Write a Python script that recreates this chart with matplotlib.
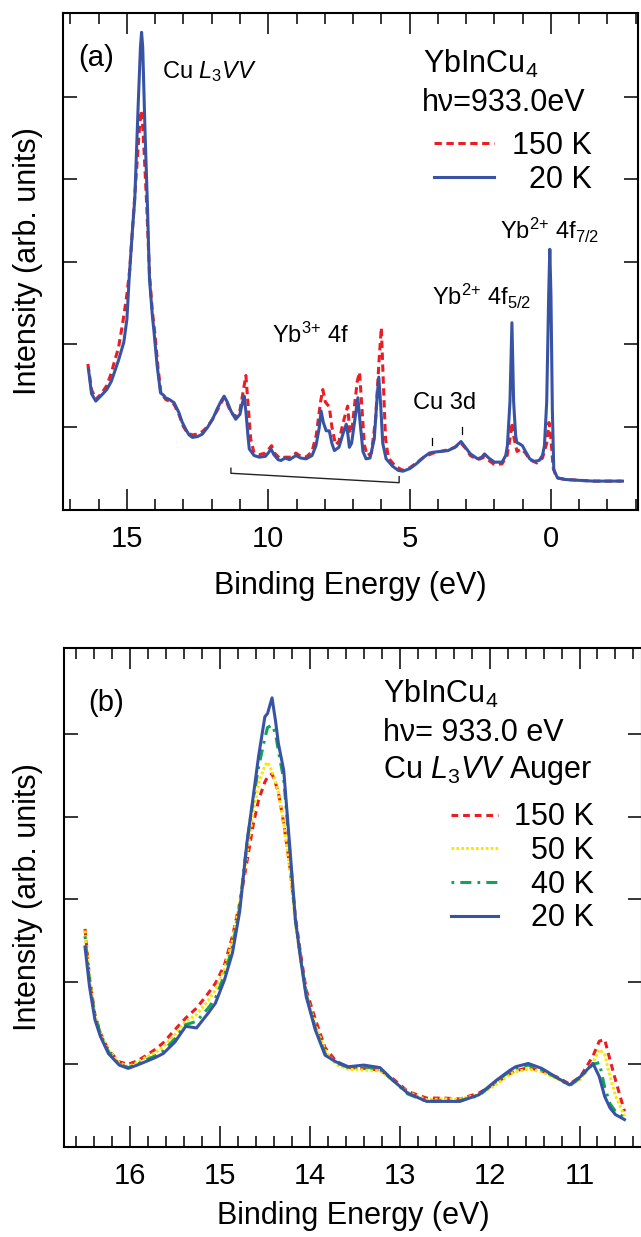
import matplotlib
matplotlib.use("Agg")
import matplotlib.pyplot as plt
import numpy as np

plt.rcParams['font.family'] = ['Liberation Sans', 'DejaVu Sans']
plt.rcParams['mathtext.fontset'] = 'custom'
plt.rcParams['mathtext.rm'] = 'Liberation Sans'
plt.rcParams['mathtext.it'] = 'Liberation Sans:italic'
plt.rcParams['mathtext.bf'] = 'Liberation Sans:bold'

# ---------------- Panel (a) data: valence band, 150 K and 20 K ----------------
a_e_20 = [16.36, 16.25, 16.10, 15.90, 15.71, 15.55, 15.44, 15.30, 15.11, 15.00, 14.92, 14.80,
          14.72, 14.60, 14.52, 14.48, 14.44, 14.36, 14.28, 14.20, 14.10, 14.04, 13.93, 13.81,
          13.70, 13.63, 13.50, 13.33, 13.16, 13.05, 12.92, 12.80, 12.68, 12.50, 12.33, 12.15,
          11.97, 11.80, 11.65, 11.56, 11.45, 11.32, 11.15, 11.00, 10.92, 10.85, 10.78, 10.72,
          10.67, 10.50, 10.32, 10.10, 9.98, 9.90, 9.80, 9.65, 9.55, 9.40, 9.25, 9.02, 8.85,
          8.66, 8.45, 8.31, 8.20, 8.13, 8.05, 7.95, 7.84, 7.75, 7.66, 7.50, 7.35, 7.24, 7.18,
          7.13, 7.05, 6.95, 6.83, 6.75, 6.65, 6.54, 6.40, 6.25, 6.15, 6.09, 6.02, 5.95, 5.83,
          5.60, 5.40, 5.24, 5.00, 4.76, 4.50, 4.30, 4.17, 3.90, 3.64, 3.40, 3.18, 3.05, 2.85,
          2.59, 2.45, 2.35, 2.20, 2.00, 1.73, 1.60, 1.54, 1.45, 1.38, 1.32, 1.25, 1.21, 1.10,
          1.01, 0.90, 0.75, 0.60, 0.42, 0.30, 0.23, 0.15, 0.08, 0.04, 0.00, -0.05, -0.10,
          -0.23, -0.50, -0.96, -1.50, -2.00, -2.53]
a_i_20 = [1.70, 1.40, 1.31, 1.38, 1.45, 1.55, 1.66, 1.80, 2.02, 2.30, 2.79, 3.40,
          3.76, 4.90, 5.60, 5.78, 5.60, 4.60, 3.76, 2.79, 2.35, 2.15, 1.74, 1.41,
          1.38, 1.35, 1.33, 1.29, 1.17, 1.06, 0.97, 0.90, 0.87, 0.88, 0.91, 0.99,
          1.09, 1.22, 1.32, 1.37, 1.30, 1.19, 1.09, 1.15, 1.28, 1.37, 1.15, 0.90,
          0.73, 0.65, 0.63, 0.64, 0.69, 0.73, 0.66, 0.60, 0.59, 0.62, 0.60, 0.65, 0.62,
          0.61, 0.65, 0.77, 0.98, 1.19, 1.05, 0.95, 0.95, 0.80, 0.71, 0.75, 0.92, 1.03, 0.90,
          0.75, 0.80, 1.05, 1.35, 1.05, 0.70, 0.61, 0.62, 0.85, 1.35, 1.60, 1.25, 0.80, 0.61,
          0.52, 0.47, 0.46, 0.49, 0.55, 0.63, 0.68, 0.69, 0.70, 0.71, 0.75, 0.82, 0.76, 0.67,
          0.61, 0.63, 0.67, 0.62, 0.57, 0.57, 0.65, 0.77, 1.30, 2.26, 1.30, 0.90, 0.81, 0.79,
          0.77, 0.70, 0.61, 0.58, 0.59, 0.65, 0.77, 1.30, 2.60, 3.15, 2.60, 1.20, 0.48,
          0.38, 0.36, 0.35, 0.34, 0.34, 0.34]

a_e_150 = [16.38, 16.25, 16.10, 15.90, 15.71, 15.55, 15.44, 15.30, 15.15, 15.00, 14.90, 14.80,
           14.70, 14.60, 14.52, 14.50, 14.46, 14.40, 14.30, 14.20, 14.10, 14.00, 13.90, 13.80,
           13.63, 13.50, 13.33, 13.16, 13.00, 12.85, 12.68, 12.50, 12.33, 12.15, 11.97, 11.80,
           11.65, 11.56, 11.45, 11.32, 11.15, 11.00, 10.90, 10.79, 10.72, 10.62, 10.50, 10.32,
           10.10, 9.98, 9.88, 9.78, 9.60, 9.40, 9.20, 9.02, 8.85, 8.66, 8.45, 8.30, 8.15, 8.07,
           7.98, 7.84, 7.75, 7.62, 7.50, 7.35, 7.19, 7.12, 7.05, 6.95, 6.85, 6.77, 6.70, 6.60,
           6.50, 6.35, 6.20, 6.08, 6.00, 5.93, 5.85, 5.75, 5.50, 5.24, 5.00, 4.76, 4.50, 4.17,
           3.90, 3.64, 3.40, 3.18, 3.00, 2.85, 2.59, 2.35, 2.00, 1.73, 1.55, 1.45, 1.38, 1.30,
           1.20, 1.05, 0.90, 0.75, 0.50, 0.30, 0.15, 0.07, 0.00, -0.08, -0.20, -0.50, -1.00,
           -1.50, -2.00, -2.50]
a_i_150 = [1.76, 1.45, 1.33, 1.40, 1.50, 1.65, 1.79, 1.95, 2.25, 2.60, 2.90, 3.40,
           3.90, 4.40, 4.78, 4.83, 4.75, 4.40, 3.70, 2.85, 2.40, 2.10, 1.72, 1.42,
           1.33, 1.31, 1.27, 1.15, 1.00, 0.92, 0.90, 0.91, 0.94, 1.00, 1.09, 1.20,
           1.30, 1.35, 1.28, 1.17, 1.12, 1.20, 1.40, 1.62, 1.30, 0.85, 0.68, 0.66,
           0.68, 0.73, 0.77, 0.68, 0.62, 0.63, 0.63, 0.68, 0.64, 0.63, 0.70, 0.90, 1.30, 1.45,
           1.30, 1.24, 1.00, 0.78, 0.82, 1.05, 1.25, 0.95, 0.92, 1.25, 1.55, 1.66, 1.30, 0.78,
           0.65, 0.68, 1.10, 1.80, 2.20, 1.55, 0.85, 0.62, 0.52, 0.47, 0.50, 0.56, 0.63, 0.68,
           0.70, 0.72, 0.75, 0.80, 0.73, 0.65, 0.60, 0.63, 0.54, 0.55, 0.65, 0.85, 1.05, 0.85,
           0.70, 0.73, 0.68, 0.60, 0.56, 0.62, 0.80, 1.05, 0.85, 0.50, 0.38, 0.36, 0.35,
           0.34, 0.34, 0.34]

# ---------------- Panel (b) data: Cu L3VV Auger, 4 temperatures ----------------
b_e = [16.50, 16.45, 16.39, 16.33, 16.24, 16.12, 16.02, 15.92, 15.83, 15.72, 15.63, 15.50,
       15.38, 15.26, 15.13, 15.05, 14.95, 14.86, 14.78, 14.70, 14.63, 14.57, 14.50, 14.47,
       14.42, 14.38, 14.35, 14.29, 14.22, 14.16, 14.10, 14.04, 13.94, 13.83, 13.71, 13.57,
       13.40, 13.22, 13.07, 12.91, 12.70, 12.50, 12.33, 12.12, 11.92, 11.77, 11.71, 11.57,
       11.42, 11.24, 11.11, 10.99, 10.85, 10.78, 10.72, 10.66, 10.60, 10.50]
b_i_20 = [2.42, 1.94, 1.54, 1.34, 1.13, 0.99, 0.95, 0.99, 1.03, 1.08, 1.13, 1.27,
          1.46, 1.44, 1.62, 1.74, 2.02, 2.35, 2.85, 3.68, 4.24, 4.73, 5.21, 5.25,
          5.44, 5.15, 4.89, 4.56, 3.60, 2.75, 2.26, 1.82, 1.42, 1.11, 1.03, 0.97,
          0.99, 0.96, 0.80, 0.65, 0.55, 0.55, 0.55, 0.63, 0.81, 0.93, 0.97, 1.01,
          0.95, 0.83, 0.75, 0.85, 1.01, 0.85, 0.61, 0.47, 0.39, 0.33]
b_i_40 = [2.55, 2.00, 1.58, 1.37, 1.15, 1.00, 0.96, 1.00, 1.05, 1.10, 1.16, 1.31,
          1.48, 1.52, 1.68, 1.80, 2.08, 2.42, 2.90, 3.68, 4.20, 4.60, 4.95, 5.08,
          5.11, 5.00, 4.80, 4.45, 3.55, 2.75, 2.28, 1.85, 1.44, 1.13, 1.02, 0.96,
          0.97, 0.94, 0.80, 0.64, 0.55, 0.56, 0.56, 0.62, 0.80, 0.92, 0.95, 0.99,
          0.93, 0.83, 0.74, 0.84, 1.00, 1.02, 0.72, 0.52, 0.43, 0.35]
b_i_50 = [2.62, 2.05, 1.60, 1.38, 1.17, 1.02, 0.97, 1.02, 1.08, 1.14, 1.21, 1.36,
          1.52, 1.60, 1.77, 1.90, 2.15, 2.50, 2.95, 3.55, 4.05, 4.40, 4.62, 4.66,
          4.55, 4.42, 4.30, 3.92, 3.35, 2.70, 2.25, 1.85, 1.48, 1.17, 1.00, 0.94,
          0.93, 0.92, 0.80, 0.66, 0.57, 0.58, 0.58, 0.63, 0.76, 0.88, 0.91, 0.94,
          0.91, 0.82, 0.74, 0.82, 1.02, 1.18, 1.12, 0.85, 0.62, 0.37]
b_i_150 = [2.64, 2.05, 1.60, 1.38, 1.17, 1.03, 1.00, 1.04, 1.10, 1.18, 1.26, 1.42,
           1.56, 1.68, 1.86, 1.98, 2.20, 2.55, 2.95, 3.45, 3.90, 4.20, 4.42, 4.48,
           4.52, 4.40, 4.30, 3.92, 3.38, 2.78, 2.32, 1.90, 1.55, 1.20, 1.04, 0.96,
           0.95, 0.93, 0.82, 0.67, 0.59, 0.59, 0.58, 0.65, 0.78, 0.89, 0.92, 0.96,
           0.92, 0.84, 0.76, 0.85, 1.10, 1.28, 1.30, 1.05, 0.81, 0.43]

RED = '#EC1C24'
BLUE = '#3953A4'
YELLOW = '#FFE600'
GREEN = '#10A455'

W, H = 641, 1237
fig = plt.figure(figsize=(W / 100, H / 100), dpi=100)

def px_axes(left, top, right, bottom):
    return [left / W, 1 - bottom / H, (right - left) / W, (bottom - top) / H]

ax1 = fig.add_axes(px_axes(62.7, 13.3, 638.3, 510))
ax2 = fig.add_axes(px_axes(64, 648.3, 642, 1146.8))

for ax in (ax1, ax2):
    for s in ax.spines.values():
        s.set_linewidth(1.5)
    ax.tick_params(axis='both', which='both', direction='in', top=True, right=True,
                   width=1.1, labelsize=21, pad=11)
    ax.tick_params(axis='x', which='major', length=15)
    ax.tick_params(axis='x', which='minor', length=8)
    ax.tick_params(axis='y', which='major', length=10, labelleft=False)
    ax.tick_params(axis='y', which='minor', left=False, right=False)

SUP2 = r'Yb$^{2{+}}$'
SUP3 = r'Yb$^{3{+}}$'

# ----- panel (a) -----
ax1.plot(a_e_150, a_i_150, color=RED, lw=2.2, dashes=(2.4, 1.5), label='150 K')
ax1.plot(a_e_20, a_i_20, color=BLUE, lw=2.2, label='  20 K')
ax1.set_xlim(17.27, -3.09)
ax1.set_ylim(-0.01, 6.01)
ax1.set_xticks([15, 10, 5, 0])
ax1.set_xticks(np.arange(17, -3.5, -1), minor=True)
ax1.set_yticks([1, 2, 3, 4, 5])
ax1.set_xlabel('Binding Energy (eV)', fontsize=22, labelpad=13)

ax1.text(16.73, 5.37, '(a)', fontsize=21)
ax1.text(13.76, 5.23, r'Cu $\mathit{L}_{\mathrm{3}}\mathit{VV}$', fontsize=17)
ax1.text(4.54, 5.29, r'YbInCu$_{\mathrm{4}}$', fontsize=22)
ax1.text(4.57, 4.83, 'h\u03bd=933.0eV', fontsize=22)
ax1.text(9.88, 2.02, SUP3 + ' 4f', fontsize=17)
ax1.text(4.87, 1.215, 'Cu 3d', fontsize=17)
ax1.text(4.22, 2.475, SUP2 + r' 4f$_{\mathrm{5/2}}$', fontsize=17)
ax1.text(1.80, 3.27, SUP2 + r' 4f$_{\mathrm{7/2}}$', fontsize=17)
# Cu 3d markers
ax1.plot([4.22, 4.22], [0.78, 0.865], color='black', lw=0.9)
ax1.plot([3.14, 3.14], [0.91, 1.00], color='black', lw=0.9)
# bracket under Yb3+ 4f multiplet
ax1.plot([11.32, 11.32, 5.37, 5.37], [0.496, 0.435, 0.321, 0.394], color='#222222', lw=1.0)

ax1.legend(loc='upper left', bbox_to_anchor=(0.645, 0.763), frameon=False,
           fontsize=22, handlelength=1.95, handletextpad=0.6, labelspacing=0.12,
           borderpad=0, borderaxespad=0)

# ----- panel (b) -----
ax2.plot(b_e, b_i_150, color=RED, lw=2.2, dashes=(2.2, 1.6), label='150 K')
ax2.plot(b_e, b_i_50, color=YELLOW, lw=2.2, dashes=(0.9, 0.7), label='  50 K')
ax2.plot(b_e, b_i_40, color=GREEN, lw=2.2, dashes=(0.9, 2.0, 3.6, 2.0), label='  40 K')
ax2.plot(b_e, b_i_20, color=BLUE, lw=2.2, label='  20 K')
ax2.set_xlim(16.734, 10.305)
ax2.set_ylim(0, 6.04)
ax2.set_xticks([16, 15, 14, 13, 12, 11])
ax2.set_xticks(np.arange(16.6, 10.3, -0.2), minor=True)
ax2.set_yticks([1, 2, 3, 4, 5])
ax2.set_xlabel('Binding Energy (eV)', fontsize=22, labelpad=8)

ax2.text(16.464, 5.28, '(b)', fontsize=21)
ax2.text(13.182, 5.38, r'YbInCu$_{\mathrm{4}}$', fontsize=22)
ax2.text(13.182, 4.92, 'h\u03bd= 933.0 eV', fontsize=22)
ax2.text(13.182, 4.47, r'Cu $\mathit{L}_{\mathrm{3}}\mathit{VV}$ Auger', fontsize=22)

ax2.legend(loc='upper left', bbox_to_anchor=(0.6687, 0.6907), frameon=False,
           fontsize=22, handlelength=1.57, handletextpad=0.52, labelspacing=0.12,
           borderpad=0, borderaxespad=0)

# y labels
fig.text(28 / W, 1 - 261.5 / H, 'Intensity (arb. units)', rotation=90, ha='center',
         va='center', fontsize=22)
fig.text(28 / W, 1 - 897.5 / H, 'Intensity (arb. units)', rotation=90, ha='center',
         va='center', fontsize=22)

fig.savefig('out.png', dpi=100)
